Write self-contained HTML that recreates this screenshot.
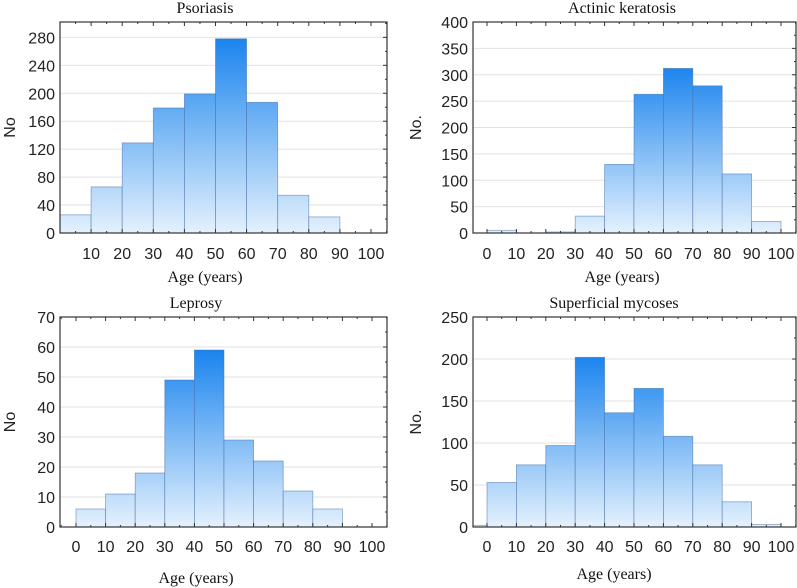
<!DOCTYPE html>
<html><head><meta charset="utf-8"><style>
html,body{margin:0;padding:0;background:#fff;}
svg{display:block;}
.tk{font-family:"Liberation Sans",sans-serif;font-size:16px;fill:#222;}
.tt{font-family:"Liberation Serif",serif;font-size:16px;fill:#111;}
</style></head><body>
<svg id="c" width="797" height="588" viewBox="0 0 797 588" xmlns="http://www.w3.org/2000/svg">
<defs>
<linearGradient id="g0" gradientUnits="userSpaceOnUse" x1="0" y1="38" x2="0" y2="233"><stop offset="0" stop-color="#1a84ee"/><stop offset="1" stop-color="#e4f1fd"/></linearGradient>
<linearGradient id="g1" gradientUnits="userSpaceOnUse" x1="0" y1="66" x2="0" y2="233"><stop offset="0" stop-color="#1a84ee"/><stop offset="1" stop-color="#e4f1fd"/></linearGradient>
<linearGradient id="g2" gradientUnits="userSpaceOnUse" x1="0" y1="350" x2="0" y2="527"><stop offset="0" stop-color="#1a84ee"/><stop offset="1" stop-color="#e4f1fd"/></linearGradient>
<linearGradient id="g3" gradientUnits="userSpaceOnUse" x1="0" y1="357" x2="0" y2="527"><stop offset="0" stop-color="#1a84ee"/><stop offset="1" stop-color="#e4f1fd"/></linearGradient>
</defs>
</svg>
<script>
const psoriasisBins=[0,10,20,30,40,50,60,70,80,90];
const psoriasisValues=[26,66,129,179,199,278,187,54,23,0];
const psoriasisYTicks=[0,40,80,120,160,200,240,280];
const psoriasisXTicks=[10,20,30,40,50,60,70,80,90,100];

const actinicBins=[0,10,20,30,40,50,60,70,80,90];
const actinicValues=[5,0,2,32,130,263,312,279,112,22];
const actinicYTicks=[0,50,100,150,200,250,300,350,400];
const actinicXTicks=[0,10,20,30,40,50,60,70,80,90,100];

const leprosyBins=[0,10,20,30,40,50,60,70,80,90];
const leprosyValues=[6,11,18,49,59,29,22,12,6,0];
const leprosyYTicks=[0,10,20,30,40,50,60,70];
const leprosyXTicks=[0,10,20,30,40,50,60,70,80,90,100];

const mycosesBins=[-10,0,10,20,30,40,50,60,70,80,90];
const mycosesValues=[2,53,74,97,202,136,165,108,74,30,3];
const mycosesYTicks=[0,50,100,150,200,250];
const mycosesXTicks=[0,10,20,30,40,50,60,70,80,90,100];

const NS="http://www.w3.org/2000/svg";
const svg=document.getElementById('c');
function mk(t,a,p){const e=document.createElementNS(NS,t);for(const k in a)e.setAttribute(k,a[k]);(p||svg).appendChild(e);return e;}

function panel(o){
  const g=mk('g',{});
  
  
  const L=o.L,R=o.R,T=o.T,B=o.B;
  const ymax=o.ymax;
  const sx=v=>o.x0+(v/10)*o.step;
  const sy=v=>B-(v/ymax)*(B-T);
  const dt=o.yTicks[1]-o.yTicks[0];
  const cp=mk('clipPath',{id:'cp'+o.name},g);
  mk('rect',{x:L,y:T,width:R-L,height:B-T},cp);
  o.yTicks.forEach(t=>{
    if(t>0&&t<ymax){const l=mk('line',{x1:L,x2:R,y1:sy(t),y2:sy(t),stroke:'#e2e2e2','stroke-width':1},g);
    
    }
  });
  const bg=mk('g',{'clip-path':'url(#cp'+o.name+')'},g);
  o.bins.forEach((b,i)=>{
    const v=o.values[i]; if(v<=0)return;
    const x1=sx(b),x2=sx(b+10),y=sy(v);
    const r=mk('rect',{x:x1,y:y,width:x2-x1,height:B-y,fill:'url(#'+o.grad+')',stroke:'#4a6fa8','stroke-width':0.8,'stroke-opacity':0.6},bg);
    
    
  });
  const f=mk('rect',{x:L,y:T,width:R-L,height:B-T,fill:'none',stroke:'#333','stroke-width':1.2},g);
  
  
  o.yTicks.forEach(t=>{
    mk('line',{x1:R,x2:R-4,y1:sy(t),y2:sy(t),stroke:'#333'},g);
    const m=sy(t+dt/2); if(m>T) mk('line',{x1:R,x2:R-2,y1:m,y2:m,stroke:'#333'},g);
    const tx=mk('text',{x:L-5,y:sy(t)+6,'text-anchor':'end',class:'tk'},g);tx.textContent=t;
    
    
  });
  for(let v=-10;v<=110;v+=5){const x=sx(v);if(x<=L||x>=R)continue;const h=v%10?2:4;
    mk('line',{x1:x,x2:x,y1:T,y2:T+h,stroke:'#333'},g);mk('line',{x1:x,x2:x,y1:B,y2:B-h,stroke:'#333'},g);}
  o.xTicks.forEach(t=>{
    const tx=mk('text',{x:sx(t),y:o.xly,'text-anchor':'middle',class:'tk'},g);tx.textContent=t;
    
    
  });
  const ti=mk('text',{x:o.titleX,y:o.titleY,'text-anchor':'middle',class:'tt'},g);ti.textContent=o.title;
  
  
  const xl=mk('text',{x:o.titleX,y:o.xty,'text-anchor':'middle',class:'tt'},g);xl.textContent='Age (years)';
  
  
  const yl=mk('text',{x:0,y:0,'text-anchor':'middle',class:'tk','font-size':'17',transform:'translate('+o.ylx+','+((T+B)/2)+') rotate(-90)'},g);yl.textContent=o.ylabel;
  
  
}
panel({name:'psoriasis',title:'Psoriasis',ylabel:'No',L:60,R:387,T:22,B:233,ymax:302,x0:60,step:31.1,bins:psoriasisBins,values:psoriasisValues,yTicks:psoriasisYTicks,xTicks:psoriasisXTicks,grad:'g0',xly:259,xty:282,ylx:15,titleX:205,titleY:13});
panel({name:'actinic',title:'Actinic keratosis',ylabel:'No.',L:473,R:796,T:22,B:233,ymax:400,x0:487,step:29.4,bins:actinicBins,values:actinicValues,yTicks:actinicYTicks,xTicks:actinicXTicks,grad:'g1',xly:259,xty:282,ylx:421,titleX:622,titleY:13});
panel({name:'leprosy',title:'Leprosy',ylabel:'No',L:60,R:387,T:317,B:527,ymax:70,x0:76,step:29.6,bins:leprosyBins,values:leprosyValues,yTicks:leprosyYTicks,xTicks:leprosyXTicks,grad:'g2',xly:552,xty:583,ylx:15,titleX:196,titleY:308});
panel({name:'mycoses',title:'Superficial mycoses',ylabel:'No.',L:473,R:796,T:317,B:527,ymax:250,x0:487,step:29.4,bins:mycosesBins,values:mycosesValues,yTicks:mycosesYTicks,xTicks:mycosesXTicks,grad:'g3',xly:552,xty:579,ylx:421,titleX:614,titleY:308});
</script>
</body></html>
